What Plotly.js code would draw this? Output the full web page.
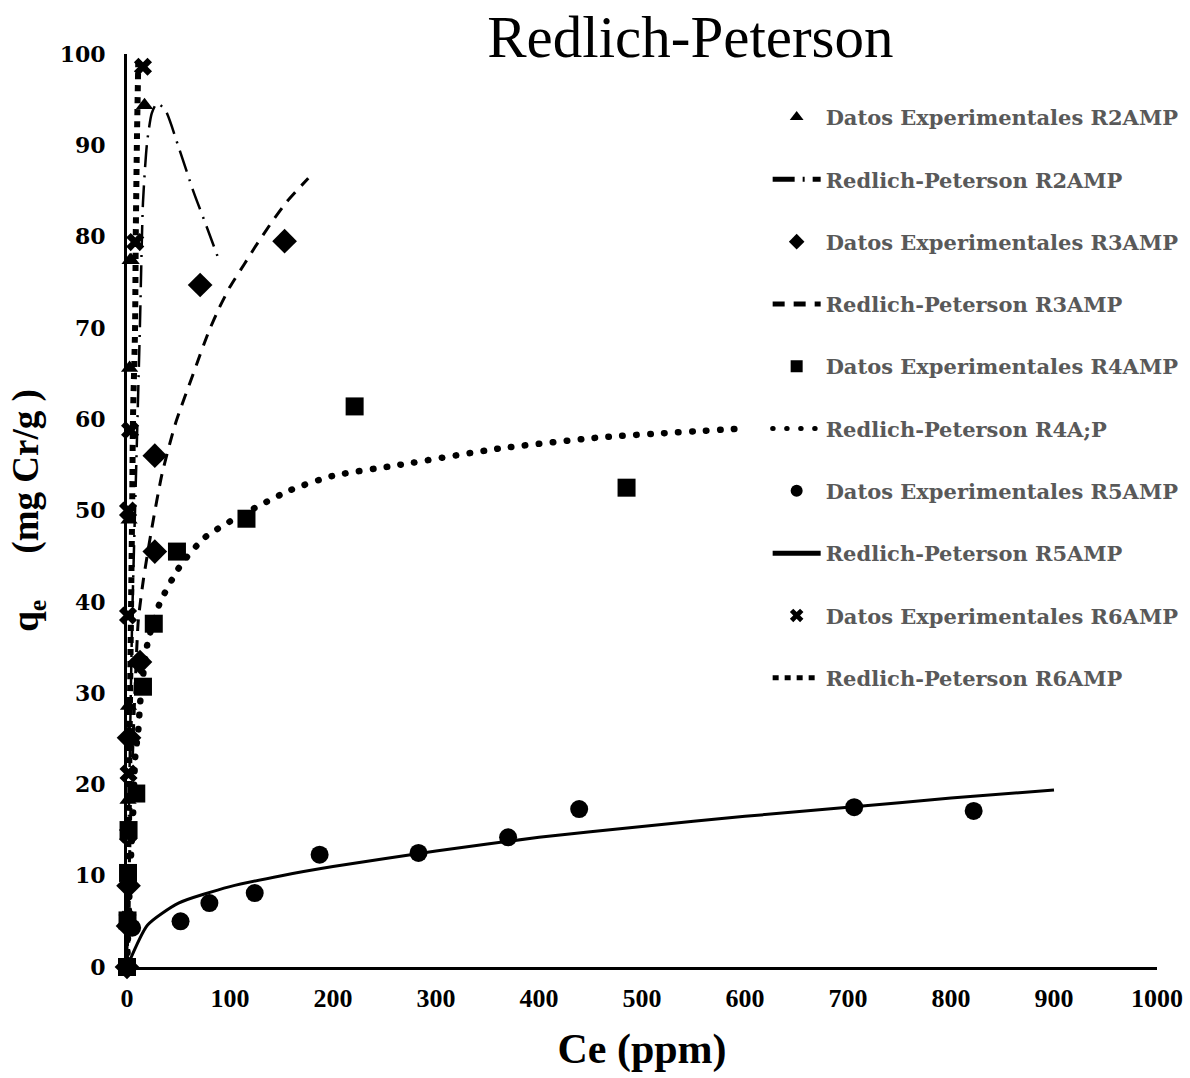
<!DOCTYPE html>
<html>
<head>
<meta charset="utf-8">
<script src="https://cdn.plot.ly/plotly-3.0.1.min.js"></script>
<style>html,body{margin:0;padding:0;background:#fff;}#chart{width:1190px;height:1078px;}</style>
</head>
<body>
<div id="chart"></div>
<script>
// Experimental data
const r2ExpX = [0, 0.5, 1, 1.5, 2, 2.5, 3, 4, 17];
const r2ExpY = [0, 9, 18.3, 28.6, 49, 65.6, 77.4, 77.4, 94.4];
const r3ExpX = [0, 1, 1.5, 2, 12.6, 27, 27, 71, 153];
const r3ExpY = [0, 4.5, 8.9, 25.1, 33.4, 45.5, 56.0, 74.7, 79.5];
const r4ExpX = [0, 0.5, 1, 1.5, 9, 15.5, 26, 48.5, 116, 221, 485];
const r4ExpY = [0, 5.1, 10.3, 15.0, 19.0, 30.7, 37.6, 45.5, 49.1, 61.4, 52.5];
const r5ExpX = [0, 5, 52, 80, 124, 187, 283, 370, 439, 706, 822];
const r5ExpY = [0, 4.3, 5.0, 7.0, 8.1, 12.3, 12.5, 14.2, 17.3, 17.5, 17.1];
const r6ExpX = [0, 0.5, 1, 1.5, 1, 1, 3, 8, 15.5];
const r6ExpY = [0, 5.2, 14.5, 21.2, 38.5, 50, 58.8, 79.4, 98.6];

// Redlich-Peterson model curves
const r2FitX = [0, 2, 5, 9, 12.5, 15.5, 19.4, 24, 29, 37, 51, 64, 78.6, 90];
const r2FitY = [0, 18, 38, 55, 70, 83.7, 90.2, 93.5, 94.6, 93.9, 89.5, 85.1, 80.7, 77.2];
const r3FitX = [0, 2, 5, 8, 11, 16, 24, 34, 47, 66, 79, 90, 100, 114, 124, 140, 155, 176];
const r3FitY = [0, 10, 22, 31, 38, 42.5, 48, 54, 59.5, 65.5, 69.5, 72.3, 74.5, 77, 78.8, 81.5, 83.8, 86.4];
const r4FitX = [0, 3, 6, 8, 11, 13, 20, 32, 52, 75, 103, 158, 200, 265, 362, 459, 602];
const r4FitY = [0, 10, 17, 23, 26, 29.2, 35.5, 39.9, 44, 47, 49, 52.2, 53.8, 55, 56.8, 58, 59];
const r5FitX = [0, 20, 50, 100, 150, 200, 300, 400, 500, 600, 700, 800, 900];
const r5FitY = [0, 4.6, 7.0, 8.8, 10.0, 11.0, 12.7, 14.2, 15.4, 16.5, 17.5, 18.5, 19.4];
const r6FitX = [0, 1, 2, 3, 4, 5, 5.8, 7.8, 8.5, 9.7, 11];
const r6FitY = [0, 10, 20, 30, 40, 50, 60, 69.8, 80, 91, 99.5];

const names = [
  'Datos Experimentales R2AMP', 'Redlich-Peterson R2AMP',
  'Datos Experimentales R3AMP', 'Redlich-Peterson R3AMP',
  'Datos Experimentales R4AMP', 'Redlich-Peterson R4A;P',
  'Datos Experimentales R5AMP', 'Redlich-Peterson R5AMP',
  'Datos Experimentales R6AMP', 'Redlich-Peterson R6AMP'
];

function pts(x, y, name, symbol, size, g) {
  return {x: x, y: y, name: name, type: 'scatter', mode: 'markers', legendgroup: g,
    marker: {symbol: symbol, size: size, color: '#000'}, cliponaxis: false};
}
function fit(x, y, name, width, dash, g) {
  return {x: x, y: y, name: name, type: 'scatter', mode: 'lines', legendgroup: g,
    line: {color: '#000', width: width, dash: dash, shape: 'spline', smoothing: 0.6}};
}

const data = [
  pts(r2ExpX, r2ExpY, names[0], 'triangle-up', 15, 'a'),
  fit(r2FitX, r2FitY, names[1], 2.5, '22px,8px,2px,8px', 'b'),
  pts(r3ExpX, r3ExpY, names[2], 'diamond', 19, 'c'),
  fit(r3FitX, r3FitY, names[3], 3, '12px,9px', 'd'),
  pts(r4ExpX, r4ExpY, names[4], 'square', 18, 'e'),
  fit(r4FitX, r4FitY, names[5], 6.5, '0.5px,13.5px', 'f'),
  pts(r5ExpX, r5ExpY, names[6], 'circle', 18, 'g'),
  fit(r5FitX, r5FitY, names[7], 3, 'solid', 'h'),
  pts(r6ExpX, r6ExpY, names[8], 'x', 16, 'i'),
  fit(r6FitX, r6FitY, names[9], 6, '6px,6px', 'j')
];

const layout = {
  width: 1190, height: 1078,
  margin: {l: 127, r: 33, t: 54, b: 111, autoexpand: false},
  paper_bgcolor: '#fff', plot_bgcolor: '#fff',
  showlegend: true,
  title: {text: 'Redlich-Peterson', font: {family: 'Liberation Serif', size: 59, color: '#000'},
    x: 0.547, xanchor: 'center', xref: 'paper', y: 0.966, yanchor: 'middle'},
  xaxis: {range: [0, 1000], tickvals: [0,100,200,300,400,500,600,700,800,900,1000],
    showgrid: false, zeroline: false, showline: true, linecolor: '#000', linewidth: 3,
    ticks: '', ticklabelstandoff: 6,
    tickfont: {family: 'Liberation Serif', size: 26, color: '#000', weight: 'bold'},
    title: {text: '<b>Ce (ppm)</b>', font: {family: 'Liberation Serif', size: 42, color: '#000'}, standoff: 22}},
  yaxis: {range: [0, 100], tickvals: [0,10,20,30,40,50,60,70,80,90,100],
    showgrid: false, zeroline: false, showline: true, linecolor: '#000', linewidth: 3,
    ticks: '', ticklabelstandoff: 14,
    tickfont: {family: 'DejaVu Serif', size: 22, color: '#000', weight: 'bold'},
    title: {text: '<b>q<sub>e</sub>     (mg Cr/g )</b>', font: {family: 'Liberation Serif', size: 37, color: '#000'}, standoff: 10}},
  legend: {x: 0.622, xanchor: 'left', y: 0.953, yanchor: 'top',
    font: {family: 'DejaVu Serif', size: 21, color: '#595959', weight: 'bold'},
    itemwidth: 48, tracegroupgap: 32, bgcolor: 'rgba(0,0,0,0)', itemsizing: 'constant'}
};

Plotly.newPlot('chart', data, layout, {displayModeBar: false, staticPlot: true}).then(function (gd) {
  const tr = gd.querySelectorAll('.scatterlayer .trace');
  if (tr[5]) tr[5].querySelectorAll('path.js-line').forEach(p => p.style.strokeLinecap = 'round');
  const lg = gd.querySelectorAll('.legend .traces');
  if (lg[5]) lg[5].querySelectorAll('path.js-line').forEach(p => p.style.strokeLinecap = 'round');
});
</script>
</body>
</html>
